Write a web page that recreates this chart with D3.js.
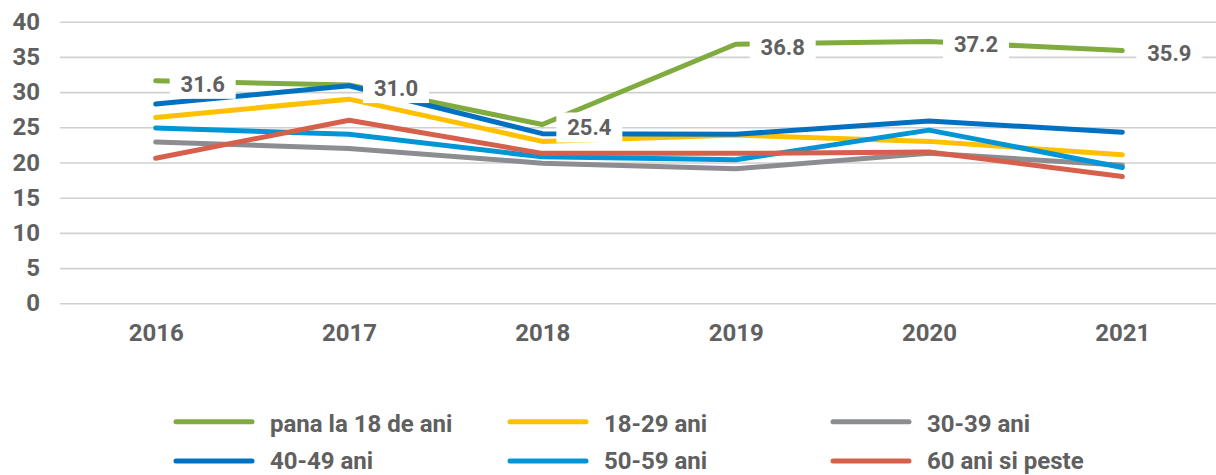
<!DOCTYPE html>
<html><head><meta charset="utf-8">
<script src="https://cdn.jsdelivr.net/npm/d3@7"></script>
<style>
html,body{margin:0;padding:0;background:#fff;}
svg{display:block;font-family:Roboto, "Noto Sans", sans-serif;}
</style></head>
<body><svg id="c" width="1216" height="475"></svg>
<script>
const years = ["2016","2017","2018","2019","2020","2021"];
const seriesNames = ["pana la 18 de ani","18-29 ani","30-39 ani","40-49 ani","50-59 ani","60 ani si peste"];
const under18 = [31.6, 31.0, 25.4, 36.8, 37.2, 35.9];
const age18_29 = [26.4, 29.0, 23.0, 23.9, 23.0, 21.1];
const age30_39 = [22.9, 22.0, 19.9, 19.1, 21.3, 19.6];
const age40_49 = [28.3, 30.9, 24.1, 24.0, 25.9, 24.3];
const age50_59 = [24.9, 24.0, 20.8, 20.4, 24.6, 19.3];
const age60plus = [20.6, 26.0, 21.3, 21.3, 21.5, 18.0];
const yTicks = [0,5,10,15,20,25,30,35,40];
const colors = ["#80AB3E","#FFC000","#8C8D91","#0070C0","#0096D6","#D6604B"];
const seriesValues = [under18, age18_29, age30_39, age40_49, age50_59, age60plus];

const svg = d3.select("#c");
const textColor = "#606060";
const x = d3.scalePoint().domain(years).range([59, 1219]).padding(0.5);
const y = d3.scaleLinear().domain([0,40]).range([303.3, 21.7]);

// gridlines + y labels
const yAxis = d3.axisLeft(y).tickValues(yTicks).tickSize(-(1219-60)).tickPadding(20);
const gy = svg.append("g").attr("transform","translate(60,0)").call(yAxis);
gy.select(".domain").remove();
gy.selectAll(".tick line").attr("stroke","#d0d0d0").attr("stroke-width",1.6);
gy.selectAll(".tick text").attr("fill",textColor).attr("font-size",24).attr("font-weight","bold")
  .attr("font-family","Roboto, sans-serif");

// x axis labels
const xAxis = d3.axisBottom(x).tickSize(0).tickPadding(0);
const gx = svg.append("g").attr("transform","translate(0,332.5)").call(xAxis);
gx.select(".domain").remove();
gx.selectAll(".tick text").attr("y",0).attr("dy","0.36em").attr("fill",textColor).attr("font-size",24).attr("font-weight","bold")
  .attr("font-family","Roboto, sans-serif");

// lines
const line = d3.line().x((d,i)=>x(years[i])).y(d=>y(d));
seriesValues.forEach((vals,si)=>{
  svg.append("path").datum(vals).attr("d",line).attr("fill","none")
    .attr("stroke",colors[si]).attr("stroke-width",5)
    .attr("stroke-linecap","round").attr("stroke-linejoin","round");
});

// data labels
const lg = svg.append("g");
under18.forEach((v,i)=>{
  const cx = x(years[i]) + 47, cy = y(v) + 3;
  lg.append("rect").attr("x",cx-33).attr("y",cy-15).attr("width",66).attr("height",30).attr("fill","#fff");
  lg.append("text").attr("x",cx).attr("y",cy).attr("dy","0.36em").attr("text-anchor","middle")
    .attr("fill",textColor).attr("font-size",22).attr("font-weight","bold").text(v.toFixed(1));
});

// legend
const legX = [176, 510, 833];
const legY = [421.7, 461];
const legTextDy = [1.5, -0.5];
seriesNames.forEach((name,i)=>{
  const col = i%3, row = Math.floor(i/3);
  const g = svg.append("g").attr("transform",`translate(${legX[col]},${legY[row]})`);
  g.append("line").attr("x1",0).attr("x2",76).attr("y1",0).attr("y2",0)
    .attr("stroke",colors[i]).attr("stroke-width",5).attr("stroke-linecap","round");
  g.append("text").attr("x",94).attr("y",legTextDy[row]).attr("dy","0.36em").attr("fill",textColor)
    .attr("font-size",24).attr("font-weight","bold").text(name);
});
</script></body></html>
